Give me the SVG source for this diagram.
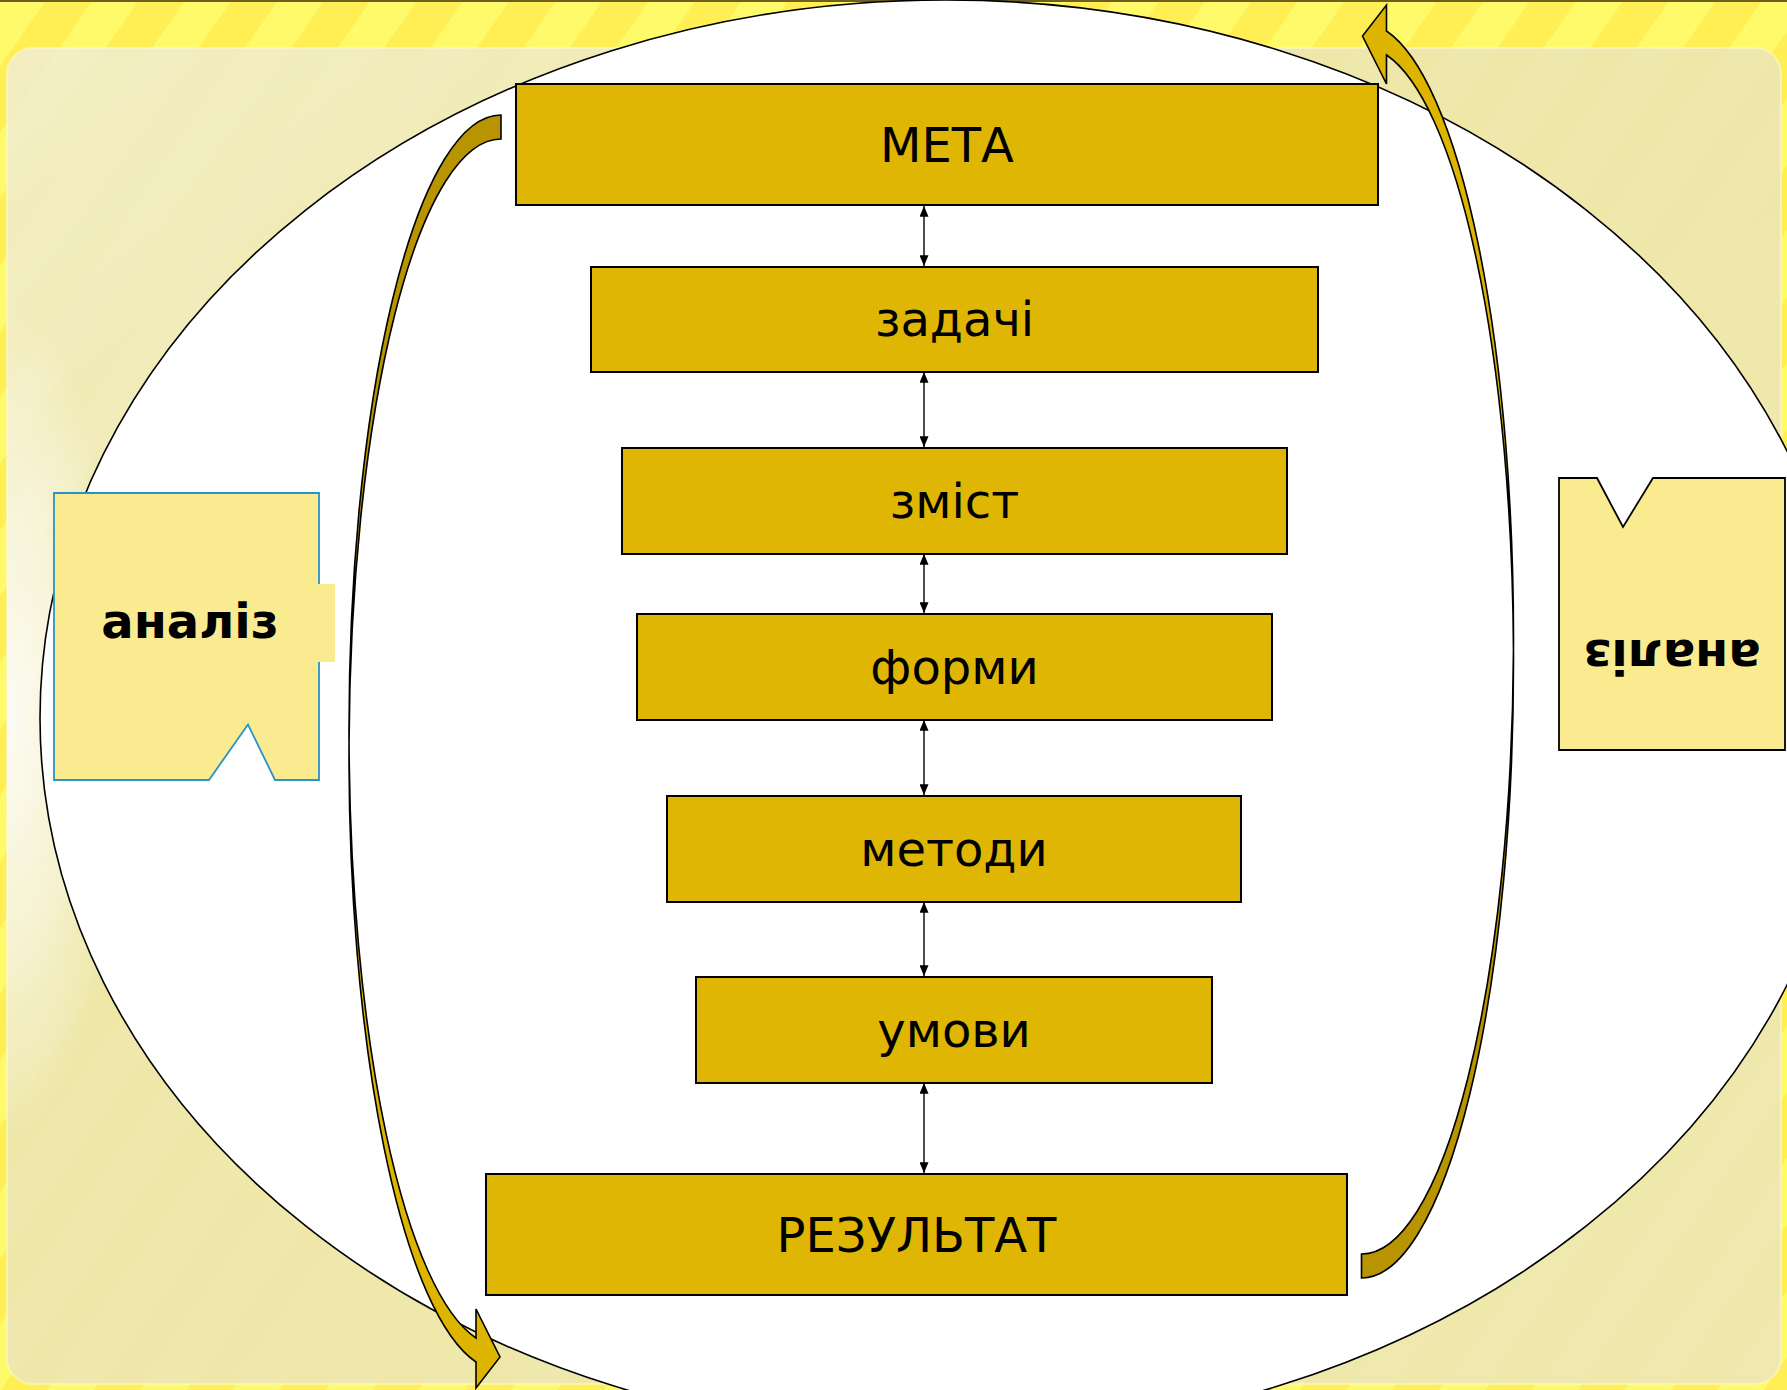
<svg xmlns="http://www.w3.org/2000/svg" width="1787" height="1390" viewBox="0 0 1787 1390">
<style>
.box{fill:#DFB603;stroke:#000;stroke-width:2}
.lbl{font-family:"DejaVu Sans","Verdana",sans-serif;font-size:48px;fill:#000;text-anchor:middle}
.tag{font-family:"DejaVu Sans","Verdana",sans-serif;font-size:48px;font-weight:bold;fill:#000;text-anchor:middle}
.conn{stroke:#000;stroke-width:1.4;fill:none;marker-start:url(#ah);marker-end:url(#ah)}
.back{fill:#B79400;stroke:#000;stroke-width:1.6;stroke-linejoin:miter}
.front{fill:#DDB400;stroke:#000;stroke-width:1.6;stroke-linejoin:miter}
</style>
<defs>
<pattern id="stripes" width="76" height="76" patternUnits="userSpaceOnUse" patternTransform="rotate(35)">
<rect width="76" height="76" fill="#FFEF55"/>
<rect width="38" height="76" fill="#FFFA6A"/>
</pattern>
<pattern id="stripes2" width="76" height="76" patternUnits="userSpaceOnUse" patternTransform="rotate(35)">
<rect width="38" height="76" fill="#FFFFFF"/>
</pattern>
<linearGradient id="panelG" x1="0" y1="0" x2="1" y2="1">
<stop offset="0" stop-color="#F3EEC2"/>
<stop offset="0.35" stop-color="#EEE7A8"/>
<stop offset="1" stop-color="#EEE8AC"/>
</linearGradient>
<radialGradient id="glow" cx="0.5" cy="0.5" r="0.5">
<stop offset="0" stop-color="#FFFFFF" stop-opacity="0.85"/>
<stop offset="0.6" stop-color="#FFFFFF" stop-opacity="0.4"/>
<stop offset="1" stop-color="#FFFFFF" stop-opacity="0"/>
</radialGradient>
<clipPath id="panelClip">
<rect x="7" y="48" width="1774" height="1336" rx="26"/>
</clipPath>
<marker id="ah" viewBox="0 0 12 10" refX="12" refY="5" markerWidth="11" markerHeight="9" markerUnits="userSpaceOnUse" orient="auto-start-reverse">
<path d="M0,0 L12,5 L0,10 Z" fill="#000"/>
</marker>
</defs>

<g id="background">
<rect x="0" y="0" width="1787" height="1390" fill="url(#stripes)"/>
<rect x="0" y="0" width="1787" height="2" fill="#6E5E22"/>
<rect x="7" y="48" width="1774" height="1336" rx="26" fill="url(#panelG)" stroke="#FBF6C8" stroke-opacity="0.7" stroke-width="2"/>
<rect x="7" y="48" width="1774" height="1336" rx="26" fill="url(#stripes2)" opacity="0.05"/>
<g clip-path="url(#panelClip)">
<ellipse cx="10" cy="720" rx="110" ry="420" fill="url(#glow)"/>
</g>
</g>

<g id="ellipse">
<ellipse cx="946" cy="718" rx="906" ry="718" fill="#FFFFFF" stroke="#000" stroke-width="1.6"/>
</g>

<g id="curved-arrow-left">
<path class="back" d="M501,115 A152,616 0 0 0 349.03,743 A152,616 0 0 1 501,139 Z"/>
<path class="front" d="M349.03,743 A152,616 0 0 0 476,1362 L476,1388 L500,1357 L476,1309 L476,1338 A152,616 0 0 1 349.03,743 Z"/>
</g>

<g id="curved-arrow-right" transform="rotate(180 931.25 696.5)">
<path class="back" d="M501,115 A152,616 0 0 0 349.03,743 A152,616 0 0 1 501,139 Z"/>
<path class="front" d="M349.03,743 A152,616 0 0 0 476,1362 L476,1388 L500,1357 L476,1309 L476,1338 A152,616 0 0 1 349.03,743 Z"/>
</g>

<g id="connectors">
<line class="conn" x1="924" y1="206" x2="924" y2="266"/>
<line class="conn" x1="924" y1="372" x2="924" y2="447"/>
<line class="conn" x1="924" y1="554" x2="924" y2="613"/>
<line class="conn" x1="924" y1="720" x2="924" y2="795"/>
<line class="conn" x1="924" y1="902" x2="924" y2="976"/>
<line class="conn" x1="924" y1="1083" x2="924" y2="1173"/>
</g>

<g id="node-meta">
<rect class="box" x="516" y="84" width="862" height="121"/>
<text class="lbl" x="947" y="162">МЕТА</text>
</g>
<g id="node-zadachi">
<rect class="box" x="591" y="267" width="727" height="105"/>
<text class="lbl" x="954.5" y="336">задачі</text>
</g>
<g id="node-zmist">
<rect class="box" x="622" y="448" width="665" height="106"/>
<text class="lbl" x="954.5" y="518">зміст</text>
</g>
<g id="node-formy">
<rect class="box" x="637" y="614" width="635" height="106"/>
<text class="lbl" x="954.5" y="684">форми</text>
</g>
<g id="node-metody">
<rect class="box" x="667" y="796" width="574" height="106"/>
<text class="lbl" x="954" y="866">методи</text>
</g>
<g id="node-umovy">
<rect class="box" x="696" y="977" width="516" height="106"/>
<text class="lbl" x="954" y="1047">умови</text>
</g>
<g id="node-rezultat">
<rect class="box" x="486" y="1174" width="861" height="121"/>
<text class="lbl" x="916.5" y="1252">РЕЗУЛЬТАТ</text>
</g>

<g id="node-analiz-left">
<path d="M54,493 H319 V584 H335 V662 H319 V780 H275 L248,724.5 L209,780 H54 Z" fill="#FAEB91"/>
<path d="M319,584 V493 H54 V780 H209 L248,724.5 L275,780 H319 V662" fill="none" stroke="#2A93C6" stroke-width="1.8"/>
<text class="tag" x="190" y="638">аналіз</text>
</g>

<g id="node-analiz-right">
<path d="M1559,478 H1597 L1623,527 L1653,478 H1785 V750 H1559 Z" fill="#FAEB91" stroke="#000" stroke-width="1.8"/>
<text class="tag" x="1672" y="640" transform="rotate(180 1672 640)">аналіз</text>
</g>
</svg>
